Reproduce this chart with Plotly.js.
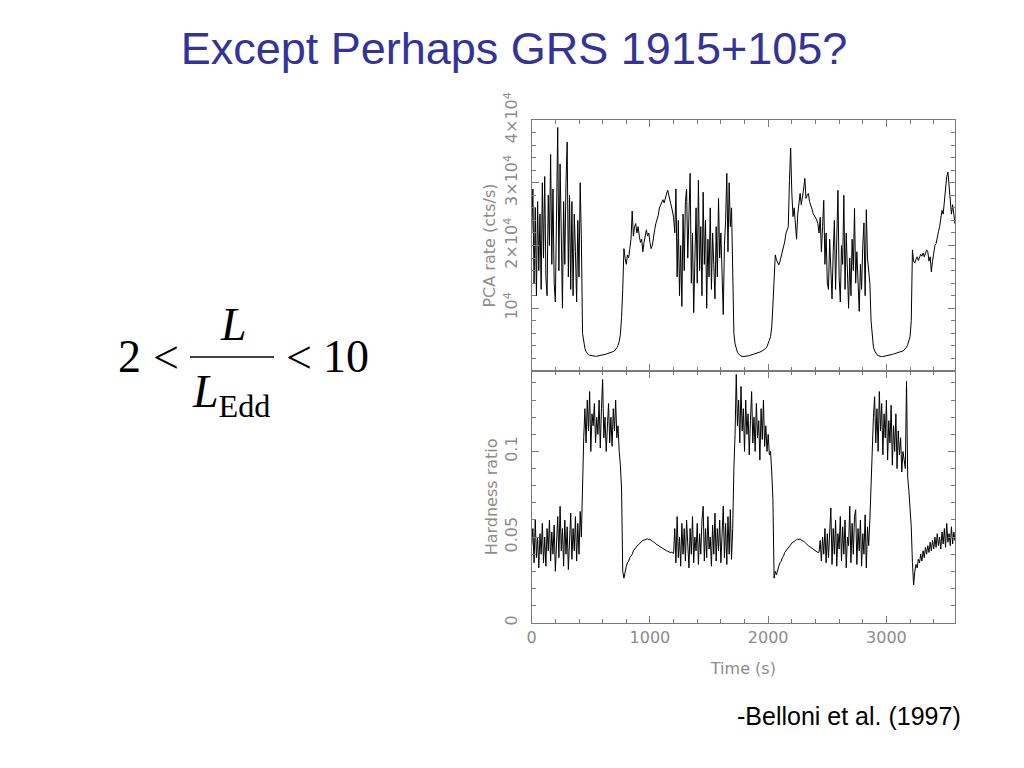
<!DOCTYPE html>
<html>
<head>
<meta charset="utf-8">
<script src="https://cdn.plot.ly/plotly-3.0.1.min.js"></script>
<style>
  html, body { margin: 0; padding: 0; background: #ffffff; }
  #chart { width: 1024px; height: 768px; }
</style>
</head>
<body>
<div id="chart"></div>
<script>
// ---- Data (Belloni et al. 1997, GRS 1915+105) ----
// Samples every 10 s starting at t = 0 s; each row below covers 100 s.
const sampleStart = 0;   // s
const sampleStep = 10;   // s

// PCA count rate (cts/s)
const countRate = [
  22000, 29000, 14000, 26000, 12000, 27000, 16000, 25000, 13000, 30000,
  18000, 31000, 15000, 12000, 28000, 20000, 34500, 17000, 29000, 14000,
  11000, 26000, 38800, 16000, 33000, 22000, 10000, 27000, 17000, 30000,
  36500, 15000, 28000, 13000, 27000, 12000, 25000, 19000, 11000, 24000,
  15000, 30000, 21000, 6000, 4500, 3600, 3100, 2800, 2600, 2500,
  2450, 2400, 2380, 2350, 2350, 2350, 2380, 2400, 2450, 2500,
  2550, 2600, 2650, 2700, 2750, 2800, 2850, 2900, 3000, 3100,
  3200, 3400, 3700, 4100, 4700, 5800, 8500, 13000, 19500, 18000,
  17000, 18500, 18000, 19500, 21000, 25500, 21500, 23000, 23500, 22000,
  23000, 21500, 20500, 21000, 19000, 20500, 21500, 22500, 21500, 22000,
  20500, 19500, 20000, 21500, 22500, 23500, 24000, 24800, 26000, 26500,
  27000, 27300, 26800, 27800, 28200, 28800, 28000, 27500, 26500, 25500,
  24500, 22000, 29000, 15000, 24000, 12000, 20000, 10300, 25000, 16000,
  27000, 29000, 18000, 24000, 31500, 14000, 22000, 9300, 19000, 26000,
  14000, 30400, 16000, 23000, 12000, 28500, 17000, 24000, 10000, 21000,
  15000, 26000, 13000, 22000, 17000, 11500, 23000, 15000, 27500, 18000,
  22000, 13000, 9000, 20000, 24000, 31500, 19000, 30000, 23000, 26000,
  15000, 6000, 4300, 3500, 3000, 2700, 2500, 2400, 2300, 2300,
  2300, 2320, 2350, 2400, 2450, 2500, 2550, 2620, 2700, 2750,
  2800, 2870, 2950, 3020, 3100, 3200, 3300, 3450, 3600, 3900,
  4300, 4900, 5500, 7000, 10500, 16000, 18500, 17700, 17300, 16900,
  17500, 18200, 19000, 20000, 20600, 21900, 22500, 23000, 30400, 35500,
  28300, 24600, 26000, 23000, 21000, 25000, 27000, 28300, 26500, 27500,
  29000, 30700, 27500, 28000, 28300, 27000, 26500, 25800, 25100, 24800,
  24500, 24100, 23500, 22000, 24500, 19000, 23000, 27200, 17000, 22000,
  14000, 13000, 21000, 16000, 11500, 19000, 24000, 13000, 21000, 28800,
  15000, 11000, 20000, 17000, 28000, 13000, 22000, 16000, 10000, 18000,
  12000, 21000, 16000, 25900, 14000, 19000, 12500, 9500, 17000, 13000,
  20000, 23600, 12000, 25700, 18000, 16000, 14000, 8000, 5000, 3800,
  3200, 2800, 2600, 2450, 2350, 2300, 2280, 2300, 2330, 2370,
  2400, 2450, 2500, 2550, 2600, 2650, 2700, 2750, 2800, 2850,
  2900, 2950, 3000, 3100, 3200, 3350, 3500, 3800, 4200, 4800,
  5500, 8000, 19300, 17500, 17200, 17800, 18200, 17600, 18000, 18600,
  18300, 18800, 18200, 18800, 19300, 19000, 17500, 18200, 15800, 17500,
  19000, 20000, 20300, 21500, 22200, 23000, 24000, 25600, 25000, 27500,
  29600, 31000, 31700, 29000, 27000, 25000, 26500, 25000, 23500, 24000
];

// Hardness ratio
const hardnessRatio = [
  0.045, 0.055, 0.035, 0.06, 0.038, 0.05, 0.032, 0.052, 0.04, 0.058,
  0.035, 0.05, 0.033, 0.055, 0.042, 0.06, 0.036, 0.053, 0.04, 0.057,
  0.03, 0.05, 0.062, 0.038, 0.068, 0.042, 0.055, 0.033, 0.06, 0.04,
  0.056, 0.031, 0.05, 0.064, 0.037, 0.055, 0.042, 0.062, 0.036, 0.058,
  0.04, 0.065, 0.05, 0.085, 0.108, 0.125, 0.105, 0.13, 0.112, 0.135,
  0.1, 0.122, 0.115, 0.128, 0.105, 0.12, 0.11, 0.13, 0.102, 0.125,
  0.142, 0.108, 0.12, 0.1, 0.118, 0.128, 0.105, 0.12, 0.103, 0.125,
  0.112, 0.13, 0.108, 0.115, 0.1, 0.092, 0.078, 0.03, 0.026, 0.031,
  0.033, 0.035, 0.036, 0.038, 0.039, 0.04, 0.042, 0.043, 0.044, 0.045,
  0.0455, 0.046, 0.047, 0.0475, 0.048, 0.0482, 0.0485, 0.0488, 0.049, 0.0485,
  0.0488, 0.048, 0.0478, 0.047, 0.0468, 0.046, 0.0455, 0.045, 0.0445, 0.044,
  0.0438, 0.0432, 0.043, 0.0425, 0.042, 0.0418, 0.0415, 0.041, 0.0412, 0.041,
  0.0405, 0.055, 0.035, 0.062, 0.038, 0.05, 0.033, 0.058, 0.04, 0.055,
  0.036, 0.06, 0.045, 0.032, 0.055, 0.04, 0.062, 0.035, 0.05, 0.042,
  0.058, 0.034, 0.052, 0.04, 0.06, 0.068, 0.036, 0.055, 0.038, 0.062,
  0.043, 0.05, 0.033, 0.057, 0.04, 0.064, 0.036, 0.055, 0.042, 0.06,
  0.035, 0.052, 0.068, 0.038, 0.058, 0.034, 0.062, 0.04, 0.066, 0.037,
  0.055, 0.09, 0.11, 0.145, 0.115, 0.13, 0.105, 0.138, 0.112, 0.125,
  0.1, 0.13, 0.11, 0.122, 0.098, 0.118, 0.135, 0.105, 0.12, 0.1,
  0.128, 0.108, 0.118, 0.095, 0.125, 0.107, 0.13, 0.103, 0.115, 0.1,
  0.11, 0.098, 0.1, 0.088, 0.072, 0.026, 0.03, 0.028, 0.031, 0.033,
  0.035, 0.036, 0.038, 0.039, 0.041, 0.042, 0.043, 0.044, 0.0448, 0.046,
  0.0465, 0.047, 0.0478, 0.048, 0.0485, 0.0488, 0.0485, 0.049, 0.0482, 0.048,
  0.0475, 0.047, 0.046, 0.0455, 0.045, 0.0445, 0.044, 0.0435, 0.043, 0.042,
  0.0418, 0.0415, 0.041, 0.0412, 0.048, 0.036, 0.05, 0.04, 0.055, 0.035,
  0.052, 0.038, 0.058, 0.067, 0.034, 0.055, 0.04, 0.06, 0.033, 0.052,
  0.043, 0.062, 0.036, 0.056, 0.04, 0.06, 0.032, 0.05, 0.045, 0.068,
  0.035, 0.058, 0.04, 0.062, 0.066, 0.034, 0.055, 0.042, 0.06, 0.033,
  0.052, 0.04, 0.063, 0.032, 0.056, 0.045, 0.06, 0.08, 0.105, 0.12,
  0.132, 0.105, 0.125, 0.1, 0.135, 0.112, 0.128, 0.098, 0.122, 0.108,
  0.13, 0.095, 0.118, 0.105, 0.127, 0.092, 0.115, 0.1, 0.122, 0.09,
  0.112, 0.098, 0.108, 0.088, 0.1, 0.095, 0.09, 0.141, 0.085, 0.077,
  0.068, 0.056, 0.035, 0.022, 0.03, 0.034, 0.032, 0.037, 0.035, 0.04,
  0.036, 0.042, 0.038, 0.044, 0.04, 0.045, 0.041, 0.047, 0.042, 0.048,
  0.043, 0.05, 0.044, 0.052, 0.045, 0.05, 0.043, 0.053, 0.046, 0.055,
  0.044, 0.058, 0.047, 0.052, 0.045, 0.056, 0.046, 0.053, 0.048, 0.05
];

// Tick labels
const rateTickVals = [10000, 20000, 30000, 40000];
const rateTickText = ['10<sup>4</sup>', '2\u00d710<sup>4</sup>', '3\u00d710<sup>4</sup>', '4\u00d710<sup>4</sup>'];
const hrTickVals = [0, 0.05, 0.1];
const hrTickText = ['0', '0.05', '0.1'];
const timeTickVals = [0, 1000, 2000, 3000];
const timeTickText = ['0', '1000', '2000', '3000'];

// Text
const slideTitle = 'Except Perhaps GRS 1915+105?';
const credit = '-Belloni et al. (1997)';

// ---- Styling ----
const W = 1024, H = 768;
const px = v => v / W;
const py = v => 1 - v / H;
const axisGray = '#7a7a7a';
const labelFont = { family: 'DejaVu Sans', size: 16, color: '#8c8c8c' };
const axTitleFont = { family: 'DejaVu Sans', size: 16, color: '#8c8c8c' };

const commonX = {
  range: [0, 3580],
  tickmode: 'array', tickvals: timeTickVals, ticktext: timeTickText,
  ticks: 'inside', ticklen: 7, tickwidth: 1, tickcolor: axisGray,
  showline: true, linecolor: axisGray, linewidth: 1, mirror: 'allticks',
  showgrid: false, zeroline: false, fixedrange: true,
  minor: { tickmode: 'linear', tick0: 0, dtick: 200, ticks: 'inside', ticklen: 4, tickcolor: axisGray, tickwidth: 1 }
};

const xDomain = [px(531.7), px(955)];

const layout = {
  width: W, height: H,
  margin: { l: 0, r: 0, t: 0, b: 0 },
  paper_bgcolor: '#ffffff', plot_bgcolor: '#ffffff',
  showlegend: false,
  title: {
    text: slideTitle,
    font: { family: 'Liberation Sans', size: 45, color: '#333399' },
    x: px(514), xanchor: 'center', xref: 'container',
    y: py(48), yanchor: 'middle', yref: 'container'
  },
  xaxis: Object.assign({}, commonX, { domain: xDomain, anchor: 'y', showticklabels: false }),
  xaxis2: Object.assign({}, commonX, {
    domain: xDomain, anchor: 'y2', showticklabels: true,
    tickfont: labelFont,
    title: { text: 'Time (s)', font: axTitleFont, standoff: 16 }
  }),
  yaxis: {
    domain: [py(371), py(120)], anchor: 'x',
    range: [0, 40000],
    tickmode: 'array', tickvals: rateTickVals, ticktext: rateTickText,
    tickangle: -90, tickfont: labelFont, ticklabelstandoff: 7,
    ticks: 'inside', ticklen: 7, tickwidth: 1, tickcolor: axisGray,
    showline: true, linecolor: axisGray, linewidth: 1, mirror: 'allticks',
    showgrid: false, zeroline: false, fixedrange: true,
    minor: { tickmode: 'linear', tick0: 0, dtick: 2000, ticks: 'inside', ticklen: 4, tickcolor: axisGray, tickwidth: 1 },
    title: { text: 'PCA rate (cts/s)', font: axTitleFont, standoff: 0 }
  },
  yaxis2: {
    domain: [py(622.7), py(371)], anchor: 'x2',
    range: [0, 0.147],
    tickmode: 'array', tickvals: hrTickVals, ticktext: hrTickText,
    tickangle: -90, tickfont: labelFont, ticklabelstandoff: 7,
    ticks: 'inside', ticklen: 7, tickwidth: 1, tickcolor: axisGray,
    showline: true, linecolor: axisGray, linewidth: 1, mirror: 'allticks',
    showgrid: false, zeroline: false, fixedrange: true,
    minor: { tickmode: 'linear', tick0: 0, dtick: 0.01, ticks: 'inside', ticklen: 4, tickcolor: axisGray, tickwidth: 1 },
    title: { text: 'Hardness ratio', font: axTitleFont, standoff: 0 }
  },
  shapes: [
    // fraction bar of the formula
    { type: 'line', xref: 'paper', yref: 'paper', x0: px(190), x1: px(274), y0: py(357), y1: py(357),
      line: { color: '#000000', width: 1.6 } }
  ],
  annotations: [
    { text: '2', x: px(129), y: py(356), xref: 'paper', yref: 'paper', xanchor: 'center', yanchor: 'middle',
      showarrow: false, font: { family: 'Liberation Serif', size: 46, color: '#000' } },
    { text: '<', x: px(166), y: py(357), xref: 'paper', yref: 'paper', xanchor: 'center', yanchor: 'middle',
      showarrow: false, font: { family: 'Liberation Serif', size: 46, color: '#000' } },
    { text: '<i>L</i>', x: px(233), y: py(325), xref: 'paper', yref: 'paper', xanchor: 'center', yanchor: 'middle',
      showarrow: false, font: { family: 'Liberation Serif', size: 46, color: '#000' } },
    { text: '<i>L</i><sub>Edd</sub>', x: px(231), y: py(395), xref: 'paper', yref: 'paper', xanchor: 'center', yanchor: 'middle',
      showarrow: false, font: { family: 'Liberation Serif', size: 46, color: '#000' } },
    { text: '<', x: px(299), y: py(357), xref: 'paper', yref: 'paper', xanchor: 'center', yanchor: 'middle',
      showarrow: false, font: { family: 'Liberation Serif', size: 46, color: '#000' } },
    { text: '10', x: px(345.5), y: py(356), xref: 'paper', yref: 'paper', xanchor: 'center', yanchor: 'middle',
      showarrow: false, font: { family: 'Liberation Serif', size: 46, color: '#000' } },
    { text: credit, x: px(963), y: py(716), xref: 'paper', yref: 'paper', xanchor: 'right', yanchor: 'middle',
      showarrow: false, font: { family: 'Liberation Sans', size: 25, color: '#000' } }
  ]
};

const traces = [
  { type: 'scatter', mode: 'lines', x0: sampleStart, dx: sampleStep, y: countRate,
    xaxis: 'x', yaxis: 'y', line: { color: '#000000', width: 1 }, hoverinfo: 'skip', name: 'PCA rate' },
  { type: 'scatter', mode: 'lines', x0: sampleStart, dx: sampleStep, y: hardnessRatio,
    xaxis: 'x2', yaxis: 'y2', line: { color: '#000000', width: 1 }, hoverinfo: 'skip', name: 'Hardness ratio' }
];

Plotly.newPlot('chart', traces, layout, { displayModeBar: false, staticPlot: true });
</script>
</body>
</html>
